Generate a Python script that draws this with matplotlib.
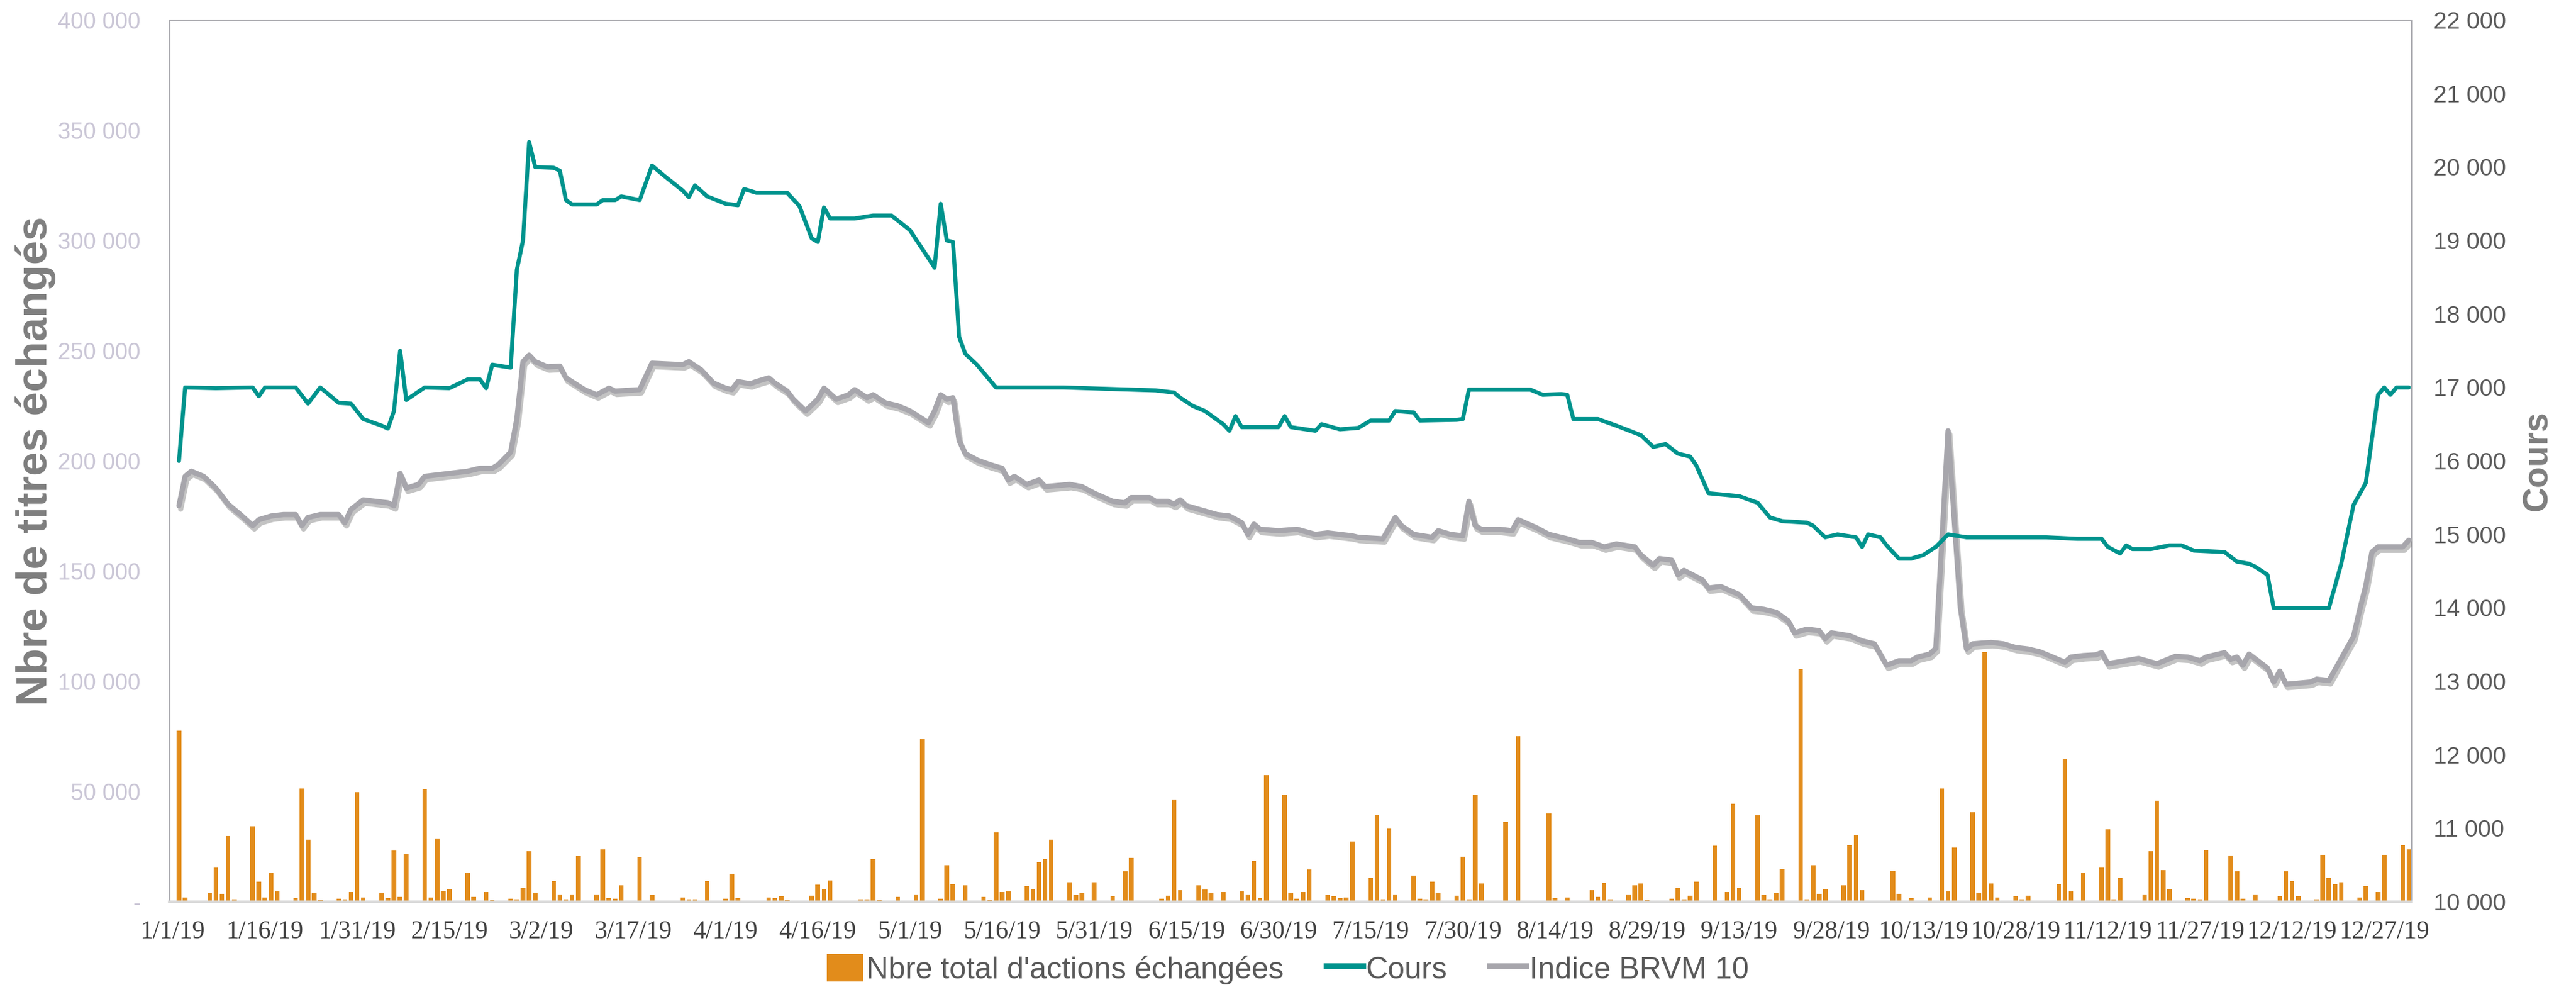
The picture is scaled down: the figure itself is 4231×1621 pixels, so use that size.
import matplotlib
matplotlib.use("Agg")
import matplotlib.pyplot as plt
import matplotlib.dates as mdates
import matplotlib.patheffects as pe
from matplotlib.lines import Line2D
from matplotlib.patches import Patch
from matplotlib.ticker import FixedLocator, FuncFormatter
import pandas as pd

YEAR = "2019-"

# Daily traded volume (number of shares)
trade_dates = [
    "01-02", "01-03", "01-04", "01-07", "01-08", "01-09", "01-10", "01-11",
    "01-14", "01-15", "01-16", "01-17", "01-18", "01-21", "01-22", "01-23",
    "01-24", "01-25", "01-28", "01-29", "01-30", "01-31", "02-01", "02-04",
    "02-05", "02-06", "02-07", "02-08", "02-11", "02-12", "02-13", "02-14",
    "02-15", "02-18", "02-19", "02-20", "02-21", "02-22", "02-25", "02-26",
    "02-27", "02-28", "03-01", "03-04", "03-05", "03-06", "03-07", "03-08",
    "03-11", "03-12", "03-13", "03-14", "03-15", "03-18", "03-20", "03-21",
    "03-22", "03-25", "03-26", "03-27", "03-28", "03-29", "04-01", "04-02",
    "04-03", "04-04", "04-05", "04-08", "04-09", "04-10", "04-11", "04-12",
    "04-15", "04-16", "04-17", "04-18", "04-19", "04-23", "04-24", "04-25",
    "04-26", "04-29", "04-30", "05-02", "05-03", "05-06", "05-07", "05-08",
    "05-09", "05-10", "05-13", "05-14", "05-15", "05-16", "05-17", "05-20",
    "05-21", "05-22", "05-23", "05-24", "05-27", "05-28", "05-29", "05-31",
    "06-03", "06-05", "06-06", "06-07", "06-11", "06-12", "06-13", "06-14",
    "06-17", "06-18", "06-19", "06-20", "06-21", "06-24", "06-25", "06-26",
    "06-27", "06-28", "07-01", "07-02", "07-03", "07-04", "07-05", "07-08",
    "07-09", "07-10", "07-11", "07-12", "07-15", "07-16", "07-17", "07-18",
    "07-19", "07-22", "07-23", "07-24", "07-25", "07-26", "07-29", "07-30",
    "07-31", "08-01", "08-02", "08-05", "08-06", "08-08", "08-09", "08-13",
    "08-14", "08-16", "08-19", "08-20", "08-21", "08-22", "08-23", "08-26",
    "08-27", "08-28", "08-29", "08-30", "09-02", "09-03", "09-04", "09-05",
    "09-06", "09-09", "09-10", "09-11", "09-12", "09-13", "09-16", "09-17",
    "09-18", "09-19", "09-20", "09-23", "09-24", "09-25", "09-26", "09-27",
    "09-30", "10-01", "10-02", "10-03", "10-04", "10-07", "10-08", "10-09",
    "10-10", "10-11", "10-14", "10-15", "10-16", "10-17", "10-18", "10-21",
    "10-22", "10-23", "10-24", "10-25", "10-28", "10-29", "10-30", "10-31",
    "11-04", "11-05", "11-06", "11-07", "11-08", "11-11", "11-12", "11-13",
    "11-14", "11-18", "11-19", "11-20", "11-21", "11-22", "11-25", "11-26",
    "11-27", "11-28", "11-29", "12-02", "12-03", "12-04", "12-05", "12-06",
    "12-09", "12-10", "12-11", "12-12", "12-13", "12-16", "12-17", "12-18",
    "12-19", "12-20", "12-23", "12-24", "12-26", "12-27", "12-30", "12-31",
]
volumes = [
    77740, 2024, 552, 3864, 15548, 3680, 29808, 1196,
    34316, 9108, 2024, 13340, 4692, 1564, 51244, 28244,
    4232, 736, 1380, 1104, 4324, 49588, 1840, 4232,
    1748, 23184, 2300, 21620, 51060, 1840, 28612, 4968,
    5796, 13340, 2208, 368, 4416, 828, 1380, 1012,
    6440, 22816, 4048, 9292, 3404, 1196, 3404, 20608,
    3220, 23828, 1748, 1472, 7452, 20240, 3128, 368,
    644, 2024, 1196, 1196, 460, 9384, 1288, 12788,
    1656, 552, 552, 2024, 1656, 2576, 920, 276,
    2668, 7820, 5888, 9752, 100, 1104, 1104, 19320,
    736, 2116, 552, 3404, 73784, 1288, 16652, 8096,
    368, 7452, 2300, 828, 31464, 4416, 4692, 7268,
    5796, 17848, 19228, 28060, 8924, 3128, 3864, 8740,
    2576, 13892, 19964, 200, 1288, 2668, 46460, 5152,
    7544, 5428, 4140, 552, 4508, 4692, 3404, 18584,
    1748, 57408, 48484, 4048, 1472, 4416, 14536, 3036,
    2576, 1656, 1932, 27416, 10672, 39560, 1196, 33028,
    3220, 11960, 1472, 1012, 9200, 4048, 2668, 20424,
    1104, 48484, 8188, 552, 36156, 75072, 552, 39928,
    1656, 1932, 552, 5152, 2208, 8648, 1196, 3312,
    7544, 8188, 736, 368, 1288, 6440, 1196, 2668,
    9108, 25484, 552, 4508, 44528, 6348, 39192, 3036,
    1012, 3956, 14904, 105616, 1104, 16652, 3496, 5704,
    7544, 25668, 30360, 5336, 460, 460, 14168, 3680,
    368, 1748, 1932, 368, 51244, 4692, 24656, 40480,
    4140, 113160, 8280, 2024, 2484, 1196, 2760, 200,
    7912, 64860, 4784, 552, 12972, 15364, 32752, 1104,
    10764, 3312, 22908, 45908, 14352, 5888, 1564, 1380,
    1012, 23552, 368, 20884, 13892, 1472, 644, 3404,
    460, 2484, 13800, 9384, 2576, 1196, 21252, 10856,
    8096, 8924, 1840, 7084, 4324, 21252, 25668, 23828,
]

# Share price (right axis)
cours_dates = [
    "01-02", "01-03", "01-08", "01-14", "01-15", "01-16", "01-21", "01-23",
    "01-25", "01-28", "01-30", "02-01", "02-04", "02-05", "02-06", "02-07",
    "02-08", "02-11", "02-15", "02-18", "02-20", "02-21", "02-22", "02-25",
    "02-26", "02-27", "02-28", "03-01", "03-04", "03-05", "03-06", "03-07",
    "03-11", "03-12", "03-14", "03-15", "03-18", "03-20", "03-22", "03-25",
    "03-26", "03-27", "03-29", "04-01", "04-03", "04-04", "04-06", "04-11",
    "04-13", "04-15", "04-16", "04-17", "04-18", "04-22", "04-25", "04-28",
    "05-01", "05-04", "05-05", "05-06", "05-07", "05-08", "05-09", "05-10",
    "05-12", "05-13", "05-15", "05-26", "06-10", "06-13", "06-14", "06-16",
    "06-18", "06-21", "06-22", "06-23", "06-24", "06-30", "07-01", "07-02",
    "07-06", "07-07", "07-10", "07-13", "07-15", "07-18", "07-19", "07-22",
    "07-23", "07-29", "07-30", "07-31", "08-10", "08-12", "08-15", "08-16",
    "08-17", "08-21", "08-24", "08-28", "08-30", "09-01", "09-03", "09-05",
    "09-06", "09-08", "09-13", "09-16", "09-18", "09-20", "09-24", "09-25",
    "09-27", "09-29", "10-02", "10-03", "10-04", "10-06", "10-07", "10-09",
    "10-11", "10-13", "10-15", "10-17", "10-20", "10-25", "11-02", "11-07",
    "11-11", "11-12", "11-14", "11-15", "11-16", "11-19", "11-22", "11-24",
    "11-26", "12-01", "12-03", "12-05", "12-06", "12-08", "12-09", "12-18",
    "12-20", "12-22", "12-24", "12-26", "12-27", "12-28", "12-29", "12-31",
]
cours_values = [
    16000, 17000, 16990, 17000, 16880, 17000, 17000, 16780,
    17000, 16790, 16780, 16570, 16480, 16440, 16680, 17500,
    16830, 17000, 16990, 17110, 17110, 16990, 17310, 17270,
    18600, 19000, 20340, 20000, 19990, 19950, 19550, 19490,
    19490, 19550, 19550, 19600, 19550, 20020, 19880, 19680,
    19590, 19750, 19600, 19500, 19480, 19700, 19650, 19650,
    19470, 19030, 18980, 19450, 19300, 19300, 19340, 19340,
    19140, 18760, 18630, 19500, 19000, 18980, 17690, 17460,
    17300, 17200, 17000, 17000, 16960, 16930, 16860, 16750,
    16680, 16500, 16410, 16610, 16460, 16460, 16610, 16460,
    16410, 16500, 16430, 16450, 16550, 16550, 16680, 16660,
    16550, 16560, 16570, 16970, 16970, 16900, 16910, 16900,
    16570, 16570, 16480, 16350, 16190, 16230, 16100, 16060,
    15940, 15560, 15520, 15430, 15230, 15180, 15160, 15120,
    14960, 15000, 14960, 14830, 15000, 14960, 14850, 14670,
    14670, 14720, 14830, 15000, 14960, 14960, 14960, 14940,
    14940, 14830, 14740, 14850, 14800, 14800, 14850, 14850,
    14780, 14760, 14630, 14600, 14560, 14450, 14000, 14000,
    14600, 15400, 15700, 16900, 17000, 16900, 17000, 17000,
]

# BRVM 10 index (right axis)
brvm_dates = [
    "01-02", "01-03", "01-04", "01-06", "01-08", "01-09", "01-10", "01-12",
    "01-14", "01-15", "01-17", "01-19", "01-21", "01-22", "01-23", "01-25",
    "01-28", "01-29", "01-30", "02-01", "02-05", "02-06", "02-07", "02-08",
    "02-10", "02-11", "02-15", "02-18", "02-20", "02-22", "02-23", "02-25",
    "02-26", "02-27", "02-28", "03-01", "03-03", "03-05", "03-06", "03-09",
    "03-11", "03-13", "03-14", "03-18", "03-20", "03-25", "03-26", "03-28",
    "03-30", "04-01", "04-02", "04-03", "04-05", "04-06", "04-08", "04-09",
    "04-11", "04-12", "04-14", "04-16", "04-17", "04-19", "04-21", "04-22",
    "04-24", "04-25", "04-27", "04-29", "05-01", "05-04", "05-05", "05-06",
    "05-07", "05-08", "05-09", "05-10", "05-12", "05-14", "05-16", "05-17",
    "05-18", "05-20", "05-22", "05-23", "05-27", "05-29", "05-31", "06-03",
    "06-05", "06-06", "06-09", "06-10", "06-12", "06-13", "06-14", "06-15",
    "06-20", "06-22", "06-24", "06-25", "06-26", "06-27", "06-30", "07-03",
    "07-06", "07-08", "07-12", "07-13", "07-17", "07-19", "07-20", "07-22",
    "07-25", "07-26", "07-28", "07-30", "07-31", "08-01", "08-02", "08-05",
    "08-07", "08-08", "08-11", "08-13", "08-16", "08-18", "08-20", "08-22",
    "08-24", "08-27", "08-28", "08-30", "08-31", "09-02", "09-03", "09-04",
    "09-07", "09-08", "09-10", "09-13", "09-15", "09-17", "09-19", "09-21",
    "09-22", "09-24", "09-26", "09-27", "09-28", "10-01", "10-03", "10-05",
    "10-07", "10-09", "10-11", "10-12", "10-14", "10-15", "10-17", "10-19",
    "10-20", "10-21", "10-24", "10-26", "10-28", "10-30", "11-01", "11-03",
    "11-05", "11-06", "11-08", "11-10", "11-11", "11-12", "11-17", "11-20",
    "11-23", "11-25", "11-27", "11-28", "12-01", "12-02", "12-03", "12-04",
    "12-05", "12-08", "12-09", "12-10", "12-11", "12-15", "12-16", "12-18",
    "12-20", "12-22", "12-23", "12-24", "12-25", "12-26", "12-30", "12-31",
]
brvm_values = [
    15390, 15790, 15860, 15790, 15630, 15520, 15410, 15270,
    15120, 15200, 15250, 15270, 15270, 15120, 15230, 15270,
    15270, 15160, 15340, 15470, 15430, 15390, 15830, 15630,
    15680, 15790, 15830, 15860, 15900, 15900, 15950, 16120,
    16570, 17350, 17440, 17350, 17280, 17290, 17130, 16970,
    16900, 16990, 16950, 16970, 17330, 17310, 17350, 17240,
    17060, 16990, 16970, 17080, 17050, 17080, 17130, 17060,
    16950, 16840, 16680, 16840, 16990, 16840, 16900, 16970,
    16860, 16900, 16790, 16750, 16680, 16520, 16680, 16900,
    16840, 16860, 16280, 16100, 16010, 15950, 15900, 15740,
    15790, 15680, 15740, 15650, 15680, 15650, 15560, 15450,
    15430, 15500, 15500, 15450, 15450, 15410, 15470, 15390,
    15270, 15250, 15160, 15000, 15140, 15070, 15050, 15070,
    15000, 15020, 14980, 14960, 14940, 15230, 15120, 15000,
    14960, 15050, 15000, 14980, 15450, 15120, 15070, 15070,
    15050, 15200, 15090, 15000, 14940, 14890, 14890, 14830,
    14870, 14830, 14720, 14580, 14670, 14650, 14450, 14510,
    14380, 14270, 14290, 14180, 14000, 13980, 13940, 13820,
    13660, 13710, 13690, 13580, 13660, 13620, 13550, 13510,
    13220, 13280, 13280, 13330, 13370, 13450, 16410, 14000,
    13440, 13510, 13530, 13510, 13460, 13440, 13400, 13330,
    13260, 13330, 13350, 13360, 13390, 13240, 13310, 13240,
    13340, 13330, 13280, 13330, 13390, 13300, 13330, 13220,
    13370, 13180, 12990, 13140, 12960, 12990, 13030, 13010,
    13310, 13610, 13970, 14300, 14760, 14830, 14830, 14920,
]

left_ticks = list(range(0, 400001, 50000))
right_ticks = list(range(10000, 22001, 1000))
date_tick_start = "2019-01-01"
date_tick_count = 25

ORANGE = "#E28C1B"
TEAL = "#00938D"
GREY = "#A7A6AC"


def to_dates(md):
    return pd.to_datetime([YEAR + d for d in md])


def spaced(v):
    return f"{int(v):,}".replace(",", " ")


fig = plt.figure(figsize=(42.31, 16.21), dpi=100)
W, H = 4231, 1621
ax = fig.add_axes([278 / W, (H - 1481) / H, (3961 - 278) / W, (1481 - 33) / H])

ax.bar(to_dates(trade_dates), volumes, width=0.75, color=ORANGE, zorder=2,
       path_effects=[pe.SimpleLineShadow(offset=(1.5, -1.5), alpha=0.15),
                     pe.Normal()])
ax.set_ylim(0, 400000)
ax.yaxis.set_major_locator(FixedLocator(left_ticks))
ax.yaxis.set_major_formatter(FuncFormatter(lambda v, p: "-" if v == 0 else spaced(v)))

x0 = pd.Timestamp("2019-01-01") - pd.Timedelta(hours=14)
x1 = pd.Timestamp("2019-12-31") + pd.Timedelta(hours=11)
ax.set_xlim(x0, x1)
tick_dates = pd.date_range(date_tick_start, periods=date_tick_count, freq="15D")
ax.xaxis.set_major_locator(FixedLocator(mdates.date2num(tick_dates)))
ax.xaxis.set_major_formatter(FuncFormatter(
    lambda v, p: (lambda d: f"{d.month}/{d.day}/{d.strftime('%y')}")(mdates.num2date(v))))

ax2 = ax.twinx()
ax2.plot(to_dates(brvm_dates), brvm_values, color=GREY, lw=6.2,
         solid_joinstyle="round", solid_capstyle="round", zorder=3,
         path_effects=[pe.SimpleLineShadow(offset=(2, -4), shadow_color="#555555", alpha=0.35),
                       pe.Normal()])
ax2.plot(to_dates(cours_dates), cours_values, color=TEAL, lw=4.8,
         solid_joinstyle="round", solid_capstyle="round", zorder=4)
ax2.set_ylim(10000, 22000)
ax2.yaxis.set_major_locator(FixedLocator(right_ticks))
ax2.yaxis.set_major_formatter(FuncFormatter(lambda v, p: spaced(v)))

for a in (ax, ax2):
    for side in ("left", "top", "right"):
        a.spines[side].set_color("#A9A9AE")
        a.spines[side].set_linewidth(2.0)
    a.spines["bottom"].set_color("#D9D9D9")
    a.spines["bottom"].set_linewidth(3.0)

ax.tick_params(axis="y", length=0, pad=34, labelsize=27, labelcolor="#CAC6D6")
ax.tick_params(axis="x", length=0, pad=22, labelsize=30, labelcolor="#404040")
for lbl in ax.get_xticklabels():
    lbl.set_fontfamily("Liberation Serif")
for lbl in ax.get_yticklabels():
    lbl.set_fontfamily("Liberation Sans")
ax2.tick_params(axis="y", length=0, pad=26, labelsize=28, labelcolor="#595959")
for lbl in ax2.get_yticklabels():
    lbl.set_fontfamily("Liberation Sans")

fig.text(59 / W, 1 - 757 / H, "Nbre de titres échangés", rotation=90,
         ha="center", va="center", fontsize=51, fontweight="bold",
         color="#7F7F7F", family="Liberation Sans")
fig.text(4168 / W, 1 - 757 / H, "Cours", rotation=90,
         ha="center", va="center", fontsize=41, fontweight="bold",
         color="#7F7F7F", family="Liberation Sans")

handles = [
    Patch(facecolor=ORANGE, edgecolor="none"),
    Line2D([], [], color=TEAL, lw=7),
    Line2D([], [], color=GREY, lw=7),
]
labels = ["Nbre total d'actions échangées", "Cours", "Indice BRVM 10"]
fig.legend(handles, labels, loc="center", bbox_to_anchor=(0.5, 1 - 1592 / H),
           ncol=3, frameon=False, prop={"family": "Liberation Sans", "size": 36},
           labelcolor="#595959", handlelength=1.2, handletextpad=0.1,
           columnspacing=1.4, handleheight=1.0)

fig.savefig("out.png", dpi=100)
